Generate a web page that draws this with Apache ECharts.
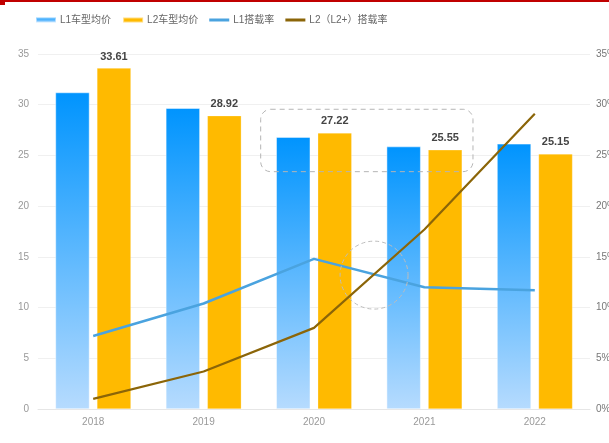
<!DOCTYPE html>
<html>
<head>
<meta charset="utf-8">
<style>
  html, body { margin: 0; padding: 0; background: #fff; }
  #chart { width: 609px; height: 443px; }
</style>
<script src="https://cdn.jsdelivr.net/npm/echarts@6/dist/echarts.min.js"></script>
</head>
<body>
<div id="chart"></div>
<script>
// Years on the category axis
const years = ['2018', '2019', '2020', '2021', '2022'];
// Average vehicle price (万元)
const l1Price = [31.2, 29.65, 26.8, 25.87, 26.14];
const l2Price = [33.61, 28.92, 27.22, 25.55, 25.15];
// Penetration rates (%)
const l1Rate = [7.2, 10.4, 14.8, 12.0, 11.7];
const l2Rate = [1.0, 3.7, 8.0, 17.7, 29.1];
// Axis ticks
const leftTicks = [0, 5, 10, 15, 20, 25, 30, 35];
const rightTicks = [0, 5, 10, 15, 20, 25, 30, 35];

const FONT = '"Liberation Sans", "Noto Sans CJK SC", Arial, sans-serif';
const LINE_ICON = 'path://M0,0 L20,0 L20,3 L0,3 Z';

const chart = echarts.init(document.getElementById('chart'), null, { renderer: 'canvas' });

const option = {
  animation: false,
  textStyle: { fontFamily: FONT },
  legend: {
    top: 10,
    left: 30,
    itemWidth: 20,
    itemHeight: 5,
    itemGap: 11,
    symbolKeepAspect: true,
    textStyle: { color: '#666', fontSize: 10, fontFamily: FONT, padding: [0, 0, 0, -1] },
    data: [
      { name: 'L1车型均价', icon: 'rect' },
      { name: 'L2车型均价', icon: 'rect' },
      { name: 'L1搭载率', icon: LINE_ICON, itemStyle: { color: '#4aa3df' } },
      { name: 'L2（L2+）搭载率', icon: LINE_ICON, itemStyle: { color: '#8b6508' } }
    ]
  },
  grid: { left: 38, right: 19, top: 54, bottom: 34, outerBoundsMode: 'none', containLabel: false },
  xAxis: {
    type: 'category',
    data: years,
    axisLine: { lineStyle: { color: '#e6e6e6' } },
    axisTick: { show: false },
    axisLabel: { color: '#999', fontSize: 10, margin: 8 }
  },
  yAxis: [
    {
      type: 'value',
      min: leftTicks[0],
      max: leftTicks[leftTicks.length - 1],
      interval: 5,
      axisLine: { show: false },
      axisTick: { show: false },
      axisLabel: { color: '#999', fontSize: 10, margin: 9 },
      splitLine: { lineStyle: { color: '#f0f0f0' } }
    },
    {
      type: 'value',
      min: rightTicks[0],
      max: rightTicks[rightTicks.length - 1],
      interval: 5,
      axisLine: { show: false },
      axisTick: { show: false },
      axisLabel: { color: '#777', fontSize: 10, margin: 6, formatter: '{value}%' },
      splitLine: { show: false }
    }
  ],
  series: [
    {
      name: 'L1车型均价',
      type: 'bar',
      data: l1Price,
      barWidth: 34,
      barGap: '22%',
      itemStyle: {
        color: new echarts.graphic.LinearGradient(0, 0, 0, 1, [
          { offset: 0, color: '#0094fe' },
          { offset: 1, color: '#b6dbfe' }
        ], false),
        borderColor: 'rgba(255,255,255,0.5)',
        borderWidth: 0.5
      }
    },
    {
      name: 'L2车型均价',
      type: 'bar',
      data: l2Price,
      barWidth: 34,
      itemStyle: { color: '#ffba00', borderColor: 'rgba(255,255,255,0.5)', borderWidth: 0.5 },
      label: {
        show: true,
        position: 'top',
        distance: 6,
        color: '#444',
        fontSize: 11,
        fontWeight: 'bold',
        formatter: p => p.value.toFixed(2)
      }
    },
    {
      name: 'L1搭载率',
      type: 'line',
      yAxisIndex: 1,
      data: l1Rate,
      symbol: 'none',
      lineStyle: { color: '#4aa3df', width: 2.5 },
      itemStyle: { color: '#4aa3df' },
      z: 5
    },
    {
      name: 'L2（L2+）搭载率',
      type: 'line',
      yAxisIndex: 1,
      data: l2Rate,
      symbol: 'none',
      lineStyle: { color: '#8b6508', width: 2.2 },
      itemStyle: { color: '#8b6508' },
      z: 6
    }
  ]
};

chart.setOption(option);

// Highlight annotations, placed in axis units (category index, left-axis value)
function px(catIndex, value) {
  const a = chart.convertToPixel({ gridIndex: 0 }, [0, value]);
  const b = chart.convertToPixel({ gridIndex: 0 }, [1, value]);
  return [a[0] + (b[0] - a[0]) * catIndex, a[1]];
}
const boxTL = px(1.517, 29.55);
const boxBR = px(3.44, 23.4);
const ringC = px(2.544, 13.2);
const unitPx = px(0, 0)[1] - px(0, 1)[1];

chart.setOption({
  graphic: [
    {
      type: 'rect',
      shape: { x: 0, y: 0, width: 609, height: 2 },
      style: { fill: '#c00000' },
      z: 100
    },
    {
      type: 'rect',
      shape: { x: 0, y: 0, width: 5, height: 5 },
      style: { fill: '#c00000' },
      z: 100
    },
    {
      type: 'rect',
      shape: {
        x: boxTL[0], y: boxTL[1],
        width: boxBR[0] - boxTL[0], height: boxBR[1] - boxTL[1],
        r: 10
      },
      style: { fill: 'none', stroke: '#b5b5b5', lineWidth: 1, lineDash: [5, 4] },
      z: 100
    },
    {
      type: 'circle',
      shape: { cx: ringC[0], cy: ringC[1], r: unitPx * 3.35 },
      style: { fill: 'none', stroke: '#bdbdbd', lineWidth: 1, lineDash: [4, 3] },
      z: 100
    }
  ]
});
</script>
</body>
</html>
